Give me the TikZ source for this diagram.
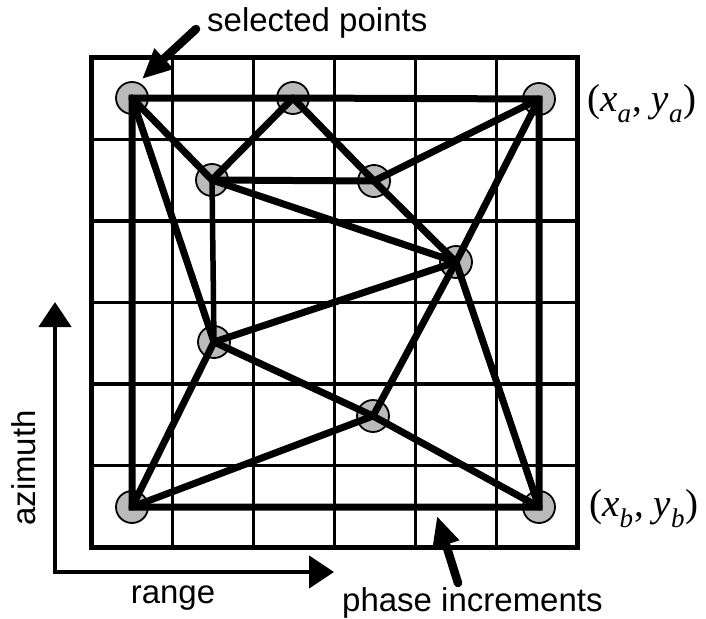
\documentclass[tikz,border=0pt]{standalone}
\usepackage{fontspec}
\setmainfont{Liberation Sans}
\newfontfamily\tnr{Liberation Serif}
\usetikzlibrary{arrows.meta}
\newcommand{\sbx}[1]{\raisebox{-0.3em}{\fontsize{27}{27}\selectfont\textit{#1}}}
\begin{document}
\begin{tikzpicture}[x=1pt,y=-1pt,
  gridline/.style={line width=3.6pt},
  frame/.style={line width=5pt},
  edge/.style={line width=7pt, line cap=round, line join=miter},
  pt/.style={circle, fill=black!27, draw=black, line width=1.8pt, minimum size=32pt, inner sep=0pt},
  lbl/.style={font=\fontsize{33}{40}\selectfont, inner sep=0pt},
  coord/.style={font=\tnr\fontsize{39}{40}\selectfont, inner sep=0pt},
  axisline/.style={line width=4.8pt, line join=miter, {Triangle[length=25pt,width=32pt]}-{Triangle[length=25pt,width=32pt]}},
  pointer/.style={line width=8.5pt, line cap=round, -{Triangle[length=30pt,width=26pt]}}
]
\useasboundingbox (0,0) rectangle (706,618);
% grid
\foreach \i in {1,...,5} {
  \draw[gridline] ({91.5+81*\i},58) -- ({91.5+81*\i},547);
  \draw[gridline] (91.5,{58+81.5*\i}) -- (577.5,{58+81.5*\i});
}
\draw[frame] (91.5,58) rectangle (577.5,547);
% selected points
\node[pt] (p1) at (132,98) {};
\node[pt] (p2) at (293,98) {};
\node[pt] (p3) at (539,99) {};
\node[pt] (p4) at (212,180) {};
\node[pt] (p5) at (374,181) {};
\node[pt] (p6) at (456,262) {};
\node[pt] (p7) at (214,342) {};
\node[pt] (p8) at (373,416) {};
\node[pt] (p9) at (132,507) {};
\node[pt] (p10) at (539,507) {};
% connections
\draw[edge, line cap=butt] (p1.center) -- (p2.center) -- (p3.center) -- (p10.center) -- (p9.center) -- cycle;
\draw[edge] (p1.center) -- (p4.center);
\draw[edge] (p4.center) -- (p2.center);
\draw[edge] (p2.center) -- (p5.center);
\draw[edge] (p5.center) -- (p6.center);
\draw[edge] (p4.center) -- (p5.center);
\draw[edge] (p5.center) -- (p3.center);
\draw[edge] (p4.center) -- (p6.center);
\draw[edge, line width=5.5pt] (p4.center) -- (p7.center);
\draw[edge] (p1.center) -- (p7.center);
\draw[edge] (p7.center) -- (p6.center);
\draw[edge] (p7.center) -- (p9.center);
\draw[edge] (p7.center) -- (p8.center);
\draw[edge] (p8.center) -- (p10.center);
\draw[edge] (p8.center) -- (p9.center);
\draw[edge] (p3.center) -- (p6.center);
\draw[edge] (p6.center) -- (p8.center);
\draw[edge] (p6.center) -- (p10.center);
% labels
\node[lbl, anchor=base west] (sel) at (207,32) {selected points};
\node[lbl, anchor=base west] (phase) at (342,611) {phase increments};
\node[lbl, anchor=base] (range) at (173,603) {range};
\node[lbl, anchor=base, rotate=90] (azi) at (35,468) {azimuth};
\node[coord, anchor=base west] (la) at (587,111) {(\textit{x}\sbx{a}\kern0.03em,\kern0.25em\textit{y}\sbx{a}\kern0.03em)};
\node[coord, anchor=base west] (lb) at (589,516) {(\textit{x}\sbx{b}\kern0.03em,\kern0.25em\textit{y}\sbx{b}\kern0.03em)};
% pointers
\coordinate (seltail) at (196,29);
\coordinate (seltip) at (142,79);
\draw[pointer] (seltail) -- (seltip);
\coordinate (phtail) at (458,583);
\coordinate (phtip) at (437,516);
\draw[pointer] (phtail) -- (phtip);
% axes
\coordinate (azitip) at (55,302);
\coordinate (origin) at (55,572);
\coordinate (rangetip) at (334,572);
\draw[axisline] (azitip) -- (origin) -- (rangetip);
\end{tikzpicture}
\end{document}
